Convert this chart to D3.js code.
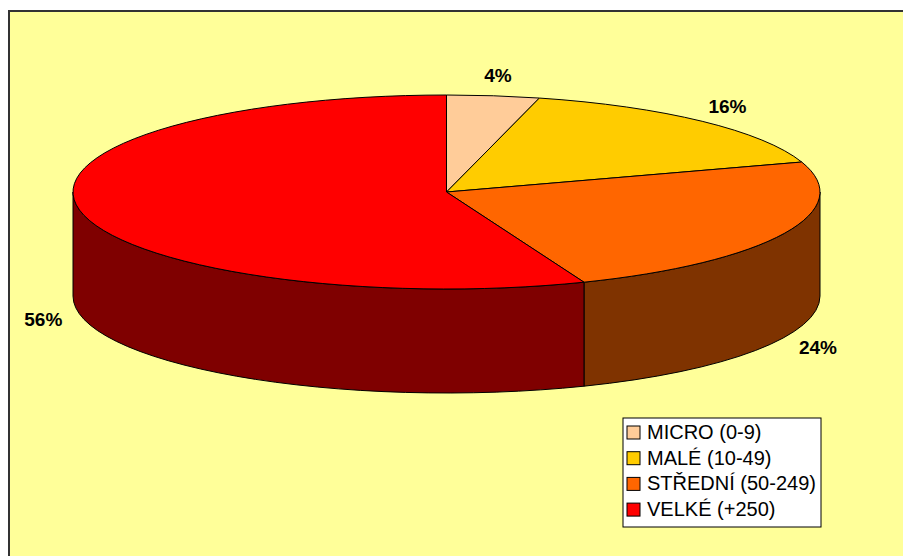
<!DOCTYPE html>
<html>
<head>
<meta charset="utf-8">
<script src="https://cdnjs.cloudflare.com/ajax/libs/d3/7.8.5/d3.min.js"></script>
<style>
  body { margin: 0; background: #fff; }
  svg { display: block; font-family: "Liberation Sans", Arial, sans-serif; }
</style>
</head>
<body>
<div class="chart"></div>
<script>
const categories = ["MICRO (0-9)", "MALÉ (10-49)", "STŘEDNÍ (50-249)", "VELKÉ (+250)"];
const values = [4, 16, 24, 56];
const topColors = ["#FFCC99", "#FFCC00", "#FF6600", "#FF0000"];
const sideColors = ["#7F664C", "#7F6600", "#7F3300", "#7F0000"];

const width = 903, height = 556;
const cx = 446.5, cy = 192, rx = 373.5, ry = 97, depth = 104;

let svg = d3.select("div.chart")
    .append("svg")
    .attr("width", width)
    .attr("height", height);

// plot area
svg.append("rect")
    .attr("x", 9).attr("y", 11)
    .attr("width", width + 10).attr("height", height + 10)
    .attr("fill", "#FFFF99")
    .attr("stroke", "#333")
    .attr("stroke-width", 2);

let pie = d3.pie().sort(null).value(d => d.value);
let arcs = pie(values.map((v, i) => ({ value: v, i: i })));

// ellipse projection of an angle (clockwise from 12 o'clock)
const px = (t, k = 1) => cx + rx * k * Math.sin(t);
const py = (t, k = 1, h = 0) => cy - ry * k * Math.cos(t) + h;

// side walls (only the front half of the rim is visible)
let sides = arcs.map(a => {
    let s = Math.max(a.startAngle, Math.PI / 2),
        e = Math.min(a.endAngle, 3 * Math.PI / 2);
    if (s >= e) return null;
    let p = d3.path();
    p.moveTo(px(s), py(s));
    p.lineTo(px(s), py(s, 1, depth));
    let d = p.toString()
        + `A${rx},${ry} 0 0 1 ${px(e)},${py(e, 1, depth)}`
        + `L${px(e)},${py(e)}`
        + `A${rx},${ry} 0 0 0 ${px(s)},${py(s)}Z`;
    return { d: d, i: a.data.i };
}).filter(d => d);

svg.append("g")
    .selectAll("path")
    .data(sides)
    .enter()
    .append("path")
    .attr("d", d => d.d)
    .attr("fill", d => sideColors[d.i])
    .attr("stroke", "#000")
    .attr("stroke-width", 1)
    .attr("stroke-linejoin", "round");

// top faces
svg.append("g")
    .selectAll("path")
    .data(arcs)
    .enter()
    .append("path")
    .attr("d", a => {
        let large = (a.endAngle - a.startAngle) > Math.PI ? 1 : 0;
        return `M${cx},${cy}L${px(a.startAngle)},${py(a.startAngle)}`
            + `A${rx},${ry} 0 ${large} 1 ${px(a.endAngle)},${py(a.endAngle)}Z`;
    })
    .attr("fill", a => topColors[a.data.i])
    .attr("stroke", "#000")
    .attr("stroke-width", 1)
    .attr("stroke-linejoin", "round");

// percentage labels
let total = d3.sum(values);
svg.append("g")
    .selectAll("text")
    .data(arcs)
    .enter()
    .append("text")
    .attr("x", a => {
        let t = (a.startAngle + a.endAngle) / 2;
        return cx + Math.sin(t) * (rx + 37);
    })
    .attr("y", a => {
        let t = (a.startAngle + a.endAngle) / 2;
        let front = Math.cos(t) < 0 ? depth + 2 : 0;
        return cy - Math.cos(t) * (ry + 20) + front;
    })
    .attr("text-anchor", "middle")
    .attr("dominant-baseline", "central")
    .attr("font-size", 19)
    .attr("font-weight", "bold")
    .text(a => Math.round(a.data.value / total * 100) + "%");

// legend
let legend = svg.append("g").attr("transform", "translate(623,418)");
legend.append("rect")
    .attr("width", 198).attr("height", 109)
    .attr("fill", "#fff")
    .attr("stroke", "#000")
    .attr("stroke-width", 1);

let rows = legend.selectAll("g.row")
    .data(categories)
    .enter()
    .append("g")
    .attr("class", "row")
    .attr("transform", (d, i) => `translate(0,${21 + i * 25.7})`);

rows.append("rect")
    .attr("x", 4).attr("y", -13)
    .attr("width", 13).attr("height", 13)
    .attr("fill", (d, i) => topColors[i])
    .attr("stroke", "#000")
    .attr("stroke-width", 1);

rows.append("text")
    .attr("x", 24)
    .attr("y", 0)
    .attr("font-size", 20)
    .text(d => d);
</script>
</body>
</html>
